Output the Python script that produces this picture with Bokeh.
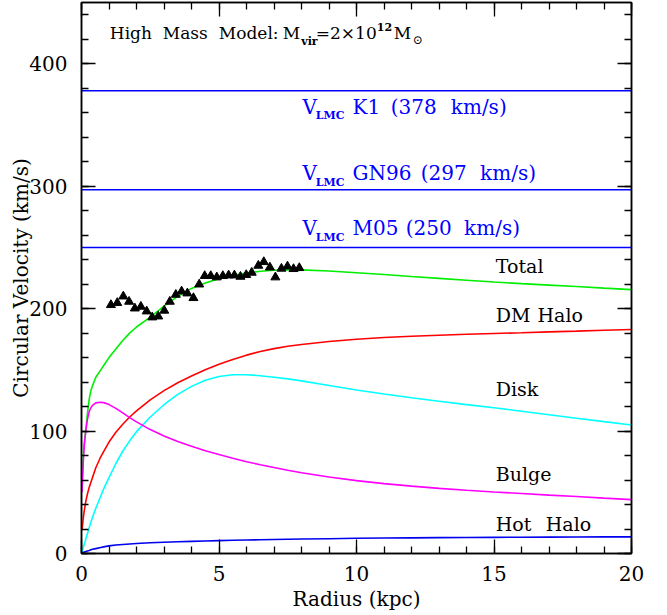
from bokeh.plotting import figure
from bokeh.models import FixedTicker, LinearAxis, Label, Range1d
from bokeh.embed import file_html
from bokeh.resources import INLINE

# ---------------- data ----------------
radius = [0.02, 0.06, 0.1, 0.16, 0.22, 0.28, 0.34, 0.4, 0.52, 0.7, 0.85, 1.0,
          1.25, 1.5, 1.75, 2.0, 2.5, 3.0, 3.5, 4.0, 4.5, 5.0, 5.5, 6.0,
          6.5, 7.0, 7.5, 8.0, 9.0, 10.0, 11.0, 12.0, 13.0, 14.0, 15.0, 16.0,
          17.0, 18.0, 19.0, 20.0]
v_total = [55, 79, 90, 102, 115, 126, 133, 137, 144, 150, 155, 160,
           167, 174, 180, 185, 193, 202, 210, 216.5, 221, 224.5, 227, 229,
           230.5, 231.3, 231.6, 231.6, 230.7, 229.3, 227.8, 226.2, 224.7, 223.2, 221.7, 220.4,
           219.2, 218, 216.7, 215.5]
v_dm = [19, 28, 35, 43, 49, 54, 58, 62, 70, 79, 85, 91,
        99, 105.5, 111.5, 116.5, 125.5, 133, 139.5, 145, 150, 154.5, 158.5, 162,
        165, 167.3, 169.2, 170.7, 173.2, 175, 176.4, 177.4, 178.2, 179, 179.7, 180.3,
        181, 181.6, 182.3, 183]
v_disk = [1.5, 4.5, 7.5, 12, 16.5, 21, 25.5, 29.5, 37, 47, 55, 62,
          73.5, 83.5, 92, 99.5, 111.5, 121.5, 130, 136.5, 141.5, 144.5, 146, 146,
          145.2, 144, 142.6, 141, 137.2, 133.5, 130.2, 127.2, 124.3, 121.6, 119, 116.2,
          113.3, 110.5, 107.7, 105]
v_bulge = [50, 73, 88, 101, 110, 116, 119, 121, 123, 123.5, 123, 121.6,
           118.5, 114.8, 111, 107.5, 101.2, 96, 91.5, 87.5, 84, 80.8, 77.8, 75,
           72.5, 70.2, 68, 66, 62.5, 59.5, 57.1, 55, 53.2, 51.6, 50.2, 49,
           47.7, 46.5, 45.2, 44]
v_hot = [0.3, 0.8, 1.2, 1.7, 2.1, 2.5, 3.0, 3.4, 4.0, 4.9, 5.6, 6.2,
         6.9, 7.4, 7.8, 8.2, 8.8, 9.2, 9.6, 9.9, 10.2, 10.5, 10.8, 11.0,
         11.2, 11.4, 11.6, 11.8, 12.1, 12.4, 12.6, 12.8, 12.95, 13.1, 13.2, 13.3,
         13.4, 13.5, 13.55, 13.6]

obs_r = [1.07, 1.30, 1.52, 1.73, 1.94, 2.16, 2.37, 2.57, 2.79, 3.01, 3.21, 3.43, 3.64,
         3.85, 4.07, 4.28, 4.48, 4.70, 4.92, 5.14, 5.35, 5.56, 5.78, 5.99, 6.19, 6.43,
         6.63, 6.85, 7.05, 7.27, 7.49, 7.71, 7.92]
obs_v = [203.0, 204.7, 210.0, 205.7, 200.2, 201.6, 197.8, 192.9, 193.7, 198.4, 205.7,
         211.4, 214.1, 212.5, 208.7, 219.8, 226.7, 226.7, 225.6, 226.7, 227.2, 227.2,
         226.1, 227.5, 229.4, 235.1, 238.1, 233.7, 225.6, 232.7, 234.5, 232.4, 233.2]

v_lmc = [378, 297, 250]
lmc_refs = ["K1", "GN96", "M05"]

component_names = ["Total", "DM Halo", "Disk", "Bulge", "Hot Halo"]

x_major = [0, 5, 10, 15, 20]
y_major = [0, 100, 200, 300, 400]
x_minor = list(range(0, 21))
y_minor = list(range(0, 451, 20))

FONT = "DejaVu Serif"

p = figure(frame_width=550, frame_height=551, x_range=Range1d(0, 20), y_range=Range1d(0, 450),
           output_backend="svg", toolbar_location=None,
           min_border_left=81, min_border_right=20, min_border_top=2, min_border_bottom=58)
p.grid.visible = False
p.outline_line_color = "black"
p.outline_line_width = 1.5
p.background_fill_color = "white"
p.border_fill_color = "white"

def style_axis(ax, ticks, minor, show_labels):
    ax.ticker = FixedTicker(ticks=ticks, minor_ticks=minor)
    ax.major_tick_in = 14
    ax.major_tick_out = 0
    ax.minor_tick_in = 7
    ax.minor_tick_out = 0
    ax.major_tick_line_color = "black"
    ax.minor_tick_line_color = "black"
    ax.major_tick_line_width = 1.3
    ax.minor_tick_line_width = 1.3
    ax.axis_line_color = "black"
    ax.axis_line_width = 1.5
    ax.major_label_text_font = FONT
    ax.axis_label_text_font = FONT
    ax.axis_label_text_font_style = "normal"
    ax.axis_label_text_font_size = "20px"
    ax.axis_label_text_color = "black"
    if show_labels:
        ax.major_label_text_font_size = "20px"
        ax.major_label_text_color = "black"
    else:
        ax.major_label_text_font_size = "1px"
        ax.major_label_text_color = None
        ax.major_label_standoff = 0

style_axis(p.xaxis[0], x_major, x_minor, True)
style_axis(p.yaxis[0], y_major, y_minor, True)
p.xaxis[0].axis_label = "Radius (kpc)"
p.yaxis[0].axis_label = "Circular Velocity (km/s)"
p.xaxis[0].major_label_standoff = 12
p.yaxis[0].major_label_standoff = 14
p.xaxis[0].axis_label_standoff = 3
p.yaxis[0].axis_label_standoff = -7

top_ax = LinearAxis()
right_ax = LinearAxis()
style_axis(top_ax, x_major, x_minor, False)
style_axis(right_ax, y_major, y_minor, False)
p.add_layout(top_ax, "above")
p.add_layout(right_ax, "right")

# horizontal LMC velocity lines
for v in v_lmc:
    p.line([0, 20], [v, v], line_color="#0000ff", line_width=1.5)

# model curves
p.line(radius, v_total, line_color="#00ee00", line_width=1.6)
p.line(radius, v_dm, line_color="#ff0000", line_width=1.6)
p.line(radius, v_disk, line_color="#00ffff", line_width=1.6)
p.line(radius, v_bulge, line_color="#ff00ff", line_width=1.6)
p.line(radius, v_hot, line_color="#0000ee", line_width=1.6)

# observed points
p.scatter(obs_r, obs_v, marker="triangle", size=9, fill_color="black", line_color="black")

# helpers to place text at reference pixel positions (text placement only)
def tx(px):
    return (px - 80.7) / 27.5

def ty(py):
    return (553.0 - py) / 1.2244

def lab(px, py, text, fs, color="black", style="normal"):
    # py is the reference baseline; shift compensates the renderer's baseline placement
    y = ty(py) + 0.36 * fs / 1.2244
    p.add_layout(Label(x=tx(px), y=y, text=text, text_font=FONT, text_font_size=f"{fs}px",
                       text_color=color, text_font_style=style,
                       text_baseline="alphabetic", text_align="left"))

# title with sub/superscripts
lab(109, 38.3, "High", 17)
lab(162, 38.3, "Mass", 17)
lab(218, 38.3, "Model:", 17)
lab(282, 38.3, "M", 17)
lab(300.5, 45, "vir", 11, style="bold")
lab(315, 38.3, "=2×10", 17)
lab(376, 30, "12", 11, style="bold")
lab(393, 38.3, "M", 17)
lab(412, 44, "⊙", 12)

# LMC labels
lmc_base_py = [113.3, 180.0, 235.0]
lmc_word_px = [(351.7, 390, 450), (351.7, 420, 479.3), (351.7, 405, 463.3)]
for ref, v, yb, (x1, x2, x3) in zip(lmc_refs, v_lmc, lmc_base_py, lmc_word_px):
    lab(301.7, yb, "V", 20, color="#0000ff")
    lab(315, yb + 6, "LMC", 11, color="#0000ff", style="bold")
    lab(x1, yb, ref, 20, color="#0000ff")
    lab(x2, yb, "(" + str(v), 20, color="#0000ff")
    lab(x3, yb, "km/s)", 20, color="#0000ff")

# component labels
lab(495, 272.7, "Total", 19)
lab(495, 321.7, "DM", 19)
lab(536.7, 321.7, "Halo", 19)
lab(495, 395.0, "Disk", 19)
lab(495, 480.0, "Bulge", 19)
lab(495, 530.0, "Hot", 19)
lab(545, 530.0, "Halo", 19)

open("out.html", "w").write(file_html(p, INLINE))
